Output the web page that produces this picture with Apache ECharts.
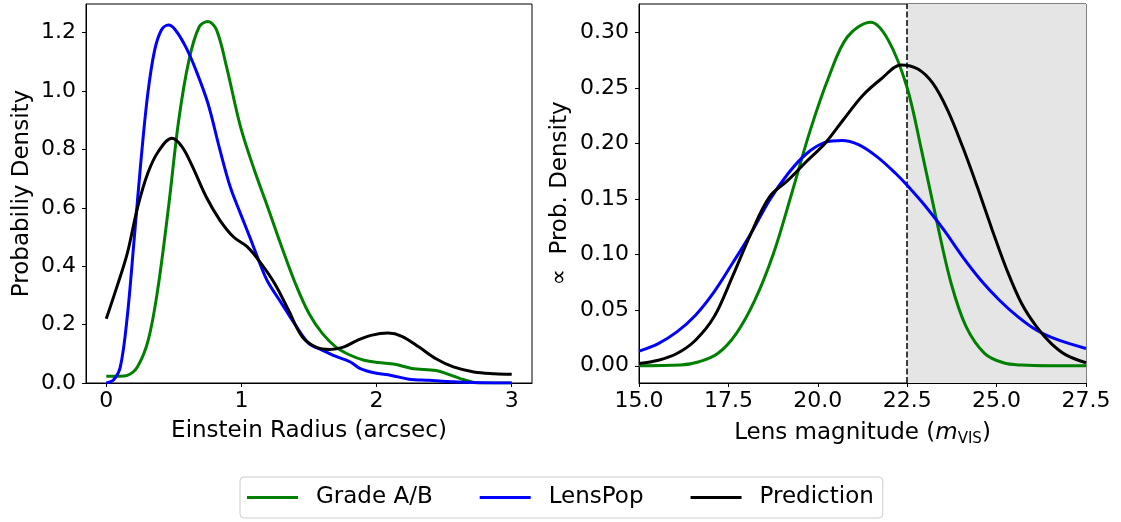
<!DOCTYPE html>
<html><head><meta charset="utf-8">
<script src="https://cdn.jsdelivr.net/npm/echarts@6/dist/echarts.min.js"></script>
<style>html,body{margin:0;padding:0;background:#fff}#c{width:1121px;height:522px}</style>
</head><body><div id="c"></div>
<script>
// ---- Left panel: Einstein radius (arcsec) ----
const radiusTicks = [0, 1, 2, 3];
const densityTicksLeft = [0, 0.2, 0.4, 0.6, 0.8, 1.0, 1.2];
const gradeRadiusX = [0, 0.1, 0.155, 0.23, 0.31, 0.38, 0.46, 0.536, 0.612, 0.688, 0.752, 0.815, 0.89, 0.993, 1.095, 1.196, 1.298, 1.40, 1.50, 1.60, 1.70, 1.806, 1.908, 2.01, 2.136, 2.26, 2.44, 2.517, 2.62, 2.72, 2.8, 3.0];
const gradeRadiusY = [0.023, 0.023, 0.026, 0.055, 0.146, 0.318, 0.60, 0.90, 1.106, 1.22, 1.238, 1.21, 1.083, 0.878, 0.73, 0.60, 0.466, 0.34, 0.238, 0.169, 0.123, 0.095, 0.078, 0.07, 0.064, 0.05, 0.043, 0.032, 0.015, 0.002, 0, 0];
const lensPopRadiusX = [0, 0.053, 0.104, 0.155, 0.206, 0.257, 0.307, 0.358, 0.409, 0.46, 0.51, 0.587, 0.663, 0.752, 0.84, 0.917, 0.993, 1.07, 1.146, 1.196, 1.298, 1.40, 1.50, 1.60, 1.70, 1.806, 1.88, 1.98, 2.11, 2.24, 2.39, 2.52, 2.77, 3.0];
const lensPopRadiusY = [0, 0.01, 0.055, 0.226, 0.49, 0.763, 0.99, 1.14, 1.21, 1.226, 1.21, 1.152, 1.072, 0.958, 0.80, 0.672, 0.58, 0.49, 0.398, 0.346, 0.272, 0.198, 0.135, 0.112, 0.091, 0.072, 0.049, 0.035, 0.026, 0.013, 0.009, 0.005, 0.001, 0];
const predRadiusX = [0, 0.079, 0.155, 0.231, 0.307, 0.384, 0.485, 0.561, 0.638, 0.739, 0.84, 0.942, 1.044, 1.146, 1.247, 1.349, 1.45, 1.552, 1.654, 1.755, 1.857, 1.958, 2.085, 2.187, 2.314, 2.44, 2.568, 2.72, 2.873, 3.0];
const predRadiusY = [0.22, 0.33, 0.443, 0.60, 0.718, 0.792, 0.838, 0.809, 0.741, 0.638, 0.558, 0.50, 0.466, 0.409, 0.34, 0.249, 0.158, 0.123, 0.115, 0.123, 0.146, 0.163, 0.171, 0.16, 0.123, 0.083, 0.055, 0.038, 0.032, 0.03];

// ---- Right panel: lens magnitude ----
const magTicks = [15.0, 17.5, 20.0, 22.5, 25.0, 27.5];
const densityTicksRight = [0, 0.05, 0.10, 0.15, 0.20, 0.25, 0.30];
const magCut = 22.5;
const gradeMagX = [15, 16.16, 16.68, 17.2, 17.72, 18.24, 18.76, 19.27, 19.79, 20.31, 20.83, 21.48, 21.97, 22.49, 22.9, 23.32, 23.73, 24.15, 24.67, 25.19, 25.7, 26.5, 27.5];
const gradeMagY = [0, 0.0006, 0.0036, 0.011, 0.029, 0.059, 0.101, 0.155, 0.212, 0.26, 0.296, 0.309, 0.293, 0.251, 0.194, 0.131, 0.074, 0.035, 0.011, 0.0027, 0.0006, 0, 0];
const lensPopMagX = [15, 15.54, 16.06, 16.58, 17.1, 17.61, 18.13, 18.65, 19.17, 19.69, 20.2, 20.67, 21.14, 21.66, 22.18, 22.51, 23.0, 23.53, 24.05, 24.56, 25.08, 25.6, 26.12, 26.74, 27.5];
const lensPopMagY = [0.0132, 0.020, 0.0305, 0.0455, 0.0665, 0.092, 0.119, 0.149, 0.173, 0.191, 0.201, 0.2027, 0.199, 0.188, 0.173, 0.162, 0.144, 0.122, 0.098, 0.077, 0.059, 0.044, 0.032, 0.023, 0.0156];
const predMagX = [15, 15.54, 16.06, 16.58, 17.1, 17.61, 18.13, 18.65, 19.17, 19.69, 20.2, 20.73, 21.25, 21.77, 22.33, 22.8, 23.22, 23.63, 24.05, 24.46, 24.88, 25.29, 25.7, 26.12, 26.53, 26.95, 27.5];
const predMagY = [0.002, 0.005, 0.011, 0.023, 0.044, 0.08, 0.119, 0.152, 0.167, 0.184, 0.200, 0.222, 0.243, 0.258, 0.2707, 0.267, 0.254, 0.23, 0.197, 0.161, 0.122, 0.086, 0.056, 0.035, 0.020, 0.0096, 0.0027];

const seriesNames = ['Grade A/B', 'LensPop', 'Prediction'];
const seriesColors = ['#008000', '#0000ff', '#000000'];

const FONT = 'DejaVu Sans';
const pairs = (xs, ys) => xs.map((x, i) => [x, ys[i]]);

function curve(name, color, xi, yi, xs, ys) {
  return {
    type: 'line', name, xAxisIndex: xi, yAxisIndex: yi,
    data: pairs(xs, ys), smooth: 0.35, showSymbol: false, symbol: 'none',
    lineStyle: { color, width: 3 }, itemStyle: { color }, z: 5
  };
}

const axisCommon = {
  axisLine: { show: true, onZero: false, lineStyle: { color: '#000', width: 1 } },
  axisTick: { show: true, inside: false, length: 4, lineStyle: { color: '#000', width: 1 } },
  splitLine: { show: false },
  nameLocation: 'middle',
  nameTextStyle: { fontFamily: FONT, fontSize: 23, color: '#000' }
};

const chart = echarts.init(document.getElementById('c'), null, { renderer: 'canvas' });
chart.setOption({
  animation: false,
  backgroundColor: '#fff',
  grid: [
    { left: 86, top: 4, width: 446, height: 379, show: true, borderColor: '#000', borderWidth: 1, backgroundColor: 'transparent' },
    { left: 639, top: 4, width: 447, height: 379, show: true, borderColor: '#000', borderWidth: 1, backgroundColor: 'transparent' }
  ],
  xAxis: [
    Object.assign({}, axisCommon, {
      type: 'value', gridIndex: 0, min: -0.15, max: 3.15,
      name: 'Einstein Radius (arcsec)', nameGap: 37,
      axisTick: Object.assign({}, axisCommon.axisTick, { customValues: radiusTicks }),
      axisLabel: { customValues: radiusTicks, formatter: v => String(Math.round(v)), fontFamily: FONT, fontSize: 22, color: '#000', margin: 7 }
    }),
    Object.assign({}, axisCommon, {
      type: 'value', gridIndex: 1, min: 15, max: 27.5, interval: 2.5,
      name: '{n|Lens magnitude (}{i|m}{s|VIS}{n|)}', nameGap: 37,
      nameTextStyle: {
        fontFamily: FONT, fontSize: 23, color: '#000',
        rich: {
          n: { fontFamily: FONT, fontSize: 23, color: '#000' },
          i: { fontFamily: FONT, fontSize: 23, color: '#000', fontStyle: 'italic' },
          s: { fontFamily: FONT, fontSize: 15, color: '#000', padding: [12, 0, 0, 0] }
        }
      },
      axisTick: Object.assign({}, axisCommon.axisTick, { customValues: magTicks }),
      axisLabel: { customValues: magTicks, formatter: v => v.toFixed(1), fontFamily: FONT, fontSize: 22, color: '#000', margin: 7 }
    })
  ],
  yAxis: [
    Object.assign({}, axisCommon, {
      type: 'value', gridIndex: 0, min: 0, max: 1.298,
      name: 'Probabiliy Density', nameGap: 52,
      axisTick: Object.assign({}, axisCommon.axisTick, { customValues: densityTicksLeft }),
      axisLabel: { customValues: densityTicksLeft, formatter: v => v.toFixed(1), fontFamily: FONT, fontSize: 22, color: '#000', margin: 10 }
    }),
    Object.assign({}, axisCommon, {
      type: 'value', gridIndex: 1, min: -0.0155, max: 0.3255,
      name: '\u221D  Prob. Density', nameGap: 67,
      axisTick: Object.assign({}, axisCommon.axisTick, { customValues: densityTicksRight }),
      axisLabel: { customValues: densityTicksRight, formatter: v => v.toFixed(2), fontFamily: FONT, fontSize: 22, color: '#000', margin: 10 }
    })
  ],
  legend: {
    data: seriesNames,
    left: 240, top: 477,
    orient: 'horizontal',
    icon: 'rect', itemWidth: 51, itemHeight: 3, itemGap: 47,
    padding: [9, 9, 9, 7],
    borderColor: '#cccccc', borderWidth: 1, borderRadius: 4,
    backgroundColor: '#fff',
    textStyle: { fontFamily: FONT, fontSize: 23, color: '#000', padding: [0, 0, 0, 13] }
  },
  series: [
    {
      type: 'line', name: 'shade', xAxisIndex: 1, yAxisIndex: 1, data: [], z: 1, silent: true,
      markArea: { silent: true, itemStyle: { color: '#e5e5e5', opacity: 1 }, data: [[{ xAxis: magCut }, { xAxis: 27.5 }]] }
    },
    curve(seriesNames[0], seriesColors[0], 0, 0, gradeRadiusX, gradeRadiusY),
    curve(seriesNames[1], seriesColors[1], 0, 0, lensPopRadiusX, lensPopRadiusY),
    curve(seriesNames[2], seriesColors[2], 0, 0, predRadiusX, predRadiusY),
    curve(seriesNames[0], seriesColors[0], 1, 1, gradeMagX, gradeMagY),
    curve(seriesNames[1], seriesColors[1], 1, 1, lensPopMagX, lensPopMagY),
    curve(seriesNames[2], seriesColors[2], 1, 1, predMagX, predMagY),
    {
      type: 'line', name: 'cut', xAxisIndex: 1, yAxisIndex: 1, data: [], z: 4, silent: true,
      markLine: { silent: true, symbol: ['none', 'none'], label: { show: false },
        lineStyle: { color: '#000', width: 1.5, type: [6, 2.5] }, data: [{ xAxis: magCut }] }
    }
  ]
});
</script>
</body></html>
